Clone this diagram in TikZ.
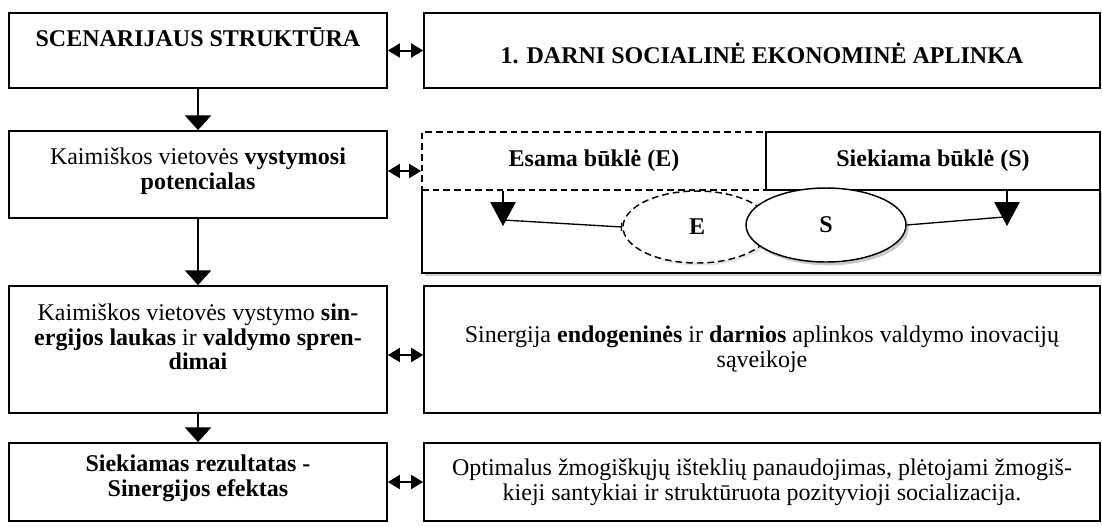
\documentclass[tikz,border=0pt]{standalone}
\usepackage{fontspec}
\setmainfont{Liberation Serif}
\usetikzlibrary{arrows.meta,shadows,shapes.geometric}

\definecolor{shadowGray}{HTML}{8A8A8A}

\tikzset{
  box/.style={draw,line width=1.3pt,fill=white,inner sep=0pt},
  dashbox/.style={dash pattern=on 5pt off 3pt},
  txt/.style={align=center,inner sep=0pt},
  btxt/.style={txt,font=\fontsize{18}{18.5}\selectfont\bfseries},
  downarr/.style={line width=1.1pt,-{Triangle[length=11pt,width=19.5pt]}},
  tiparr/.style={line width=1.1pt,-{Triangle[length=18pt,width=19pt]}},
  dblarr/.style={line width=1.5pt,{Triangle[length=9pt,width=10.5pt]}-{Triangle[length=9pt,width=10.5pt]}},
  softshadow/.style={drop shadow={shadow xshift=2pt,shadow yshift=-2.5pt,fill=shadowGray,opacity=.45}}
}

\begin{document}
\begin{tikzpicture}[x=0.75pt,y=-0.75pt,font=\fontsize{18}{18.5}\selectfont]
  \useasboundingbox (0,0) rectangle (1102,526);

  \node[box,minimum width=283.5pt,minimum height=56.25pt] (scen) at (198,50.5) {};
  \node[btxt] (scenT) at (198,37) {SCENARIJAUS STRUKTŪRA};
  \node[box,minimum width=507pt,minimum height=56.25pt] (darni) at (762,50.5) {};
  \node[btxt] (darniT) at (762,53) {1. DARNI SOCIALINĖ EKONOMINĖ APLINKA};

  \node[box,minimum width=283.5pt,minimum height=65.25pt] (potenc) at (198,174.5) {};
  \node[txt] (potencT) at (198,171) {Kaimiškos vietovės \textbf{vystymosi}\\\textbf{potencialas}};

  \node[fill=white,inner sep=0pt,minimum width=508.5pt,minimum height=62.25pt,softshadow] (panel) at (761,231.5) {};
  \draw[line width=1.3pt] (panel.north west) -- (panel.south west) -- (panel.south east) -- (panel.north east);
  \node[box,dashbox,minimum width=258pt,minimum height=43.5pt] (esama) at (594,161) {};
  \node[btxt] (esamaT) at (esama) {Esama būklė (E)};
  \node[box,minimum width=250.5pt,minimum height=43.5pt] (siek) at (933,161) {};
  \node[btxt] (siekT) at (siek) {Siekiama būklė (S)};

  \node[ellipse,draw,dashbox,line width=1.1pt,fill=white,inner sep=0pt,minimum width=111pt,minimum height=54pt,
    drop shadow={shadow xshift=2pt,shadow yshift=-2pt,fill=shadowGray,opacity=.2},btxt] (ellE) at (697,227) {E};
  \node[ellipse,draw,line width=1.1pt,fill=white,inner sep=0pt,minimum width=120pt,minimum height=55.5pt,
    softshadow,btxt] (ellS) at (826,225) {S};

  \coordinate (tipE) at (503,226);
  \coordinate (tipS) at (1007,226);
  \draw[tiparr] (esama.south -| tipE) -- (tipE);
  \draw[line width=1pt,-{Bar[width=6pt]}] (503,220) -- (ellE.west);
  \draw[tiparr] (siek.south -| tipS) -- (tipS);
  \draw[line width=1pt] (ellS.east) -- (1004,217);

  \node[box,minimum width=283.5pt,minimum height=95.25pt] (sinerg) at (198,349.5) {};
  \node[txt] (sinergT) at (198,337) {Kaimiškos vietovės vystymo \textbf{sin-}\\\textbf{ergijos laukas} ir \textbf{valdymo spren-}\\\textbf{dimai}};
  \node[box,minimum width=507pt,minimum height=95.25pt] (sinR) at (762,349.5) {};
  \node[txt] (sinRT) at (762,349) {Sinergija \textbf{endogeninės} ir \textbf{darnios} aplinkos valdymo inovacijų\\sąveikoje};

  \node[box,minimum width=283.5pt,minimum height=58.5pt] (rezult) at (198,482) {};
  \node[btxt] (rezultT) at (198,478) {Siekiamas rezultatas -\\Sinergijos efektas};
  \node[box,minimum width=507pt,minimum height=58.5pt] (optim) at (762,482) {};
  \node[txt] (optimT) at (762,482) {Optimalus žmogiškųjų išteklių panaudojimas, plėtojami žmogiš-\\kieji santykiai ir struktūruota pozityvioji socializacija.};

  \draw[downarr] (scen.south) -- (potenc.north);
  \draw[downarr] (potenc.south) -- (sinerg.north);
  \draw[downarr] (sinerg.south) -- (rezult.north);

  \draw[dblarr] (scen.east) -- (darni.west);
  \draw[dblarr] (potenc.east |- 0,171) -- (esama.west |- 0,171);
  \draw[dblarr] (sinerg.east |- 0,355) -- (sinR.west |- 0,355);
  \draw[dblarr] (rezult.east) -- (optim.west);
\end{tikzpicture}
\end{document}
